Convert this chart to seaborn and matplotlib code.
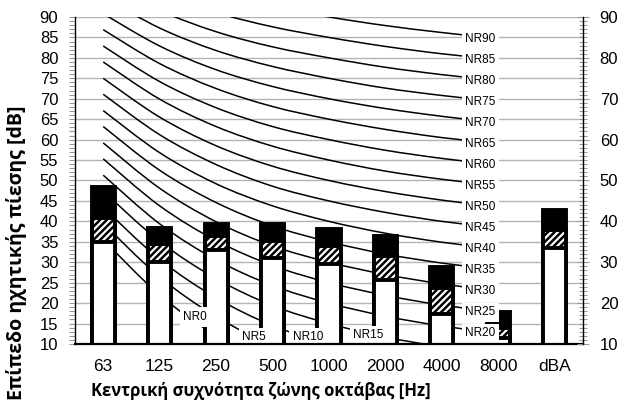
import matplotlib
matplotlib.use("Agg")
import matplotlib.pyplot as plt
from matplotlib.path import Path
from matplotlib.patches import PathPatch
from matplotlib.ticker import MultipleLocator
import seaborn as sns

# Octave bands on the x axis (last column is the overall A-weighted level)
bands = ["63", "125", "250", "500", "1000", "2000", "4000", "8000", "dBA"]

# Stacked bar levels in dB (cumulative tops of each segment)
level_white = [35.0, 30.1, 33.0, 31.0, 29.5, 25.7, 17.3, 11.5, 33.4]
level_hatch = [40.8, 34.5, 36.4, 35.3, 34.0, 31.5, 23.6, 13.8, 38.0]
level_total = [48.3, 38.3, 39.3, 39.3, 38.2, 36.4, 28.8, 17.9, 42.8]

# Noise Rating curves, 63 Hz ... 8000 Hz
nr_bands = ["63", "125", "250", "500", "1000", "2000", "4000", "8000"]
nr_0 = [35.5, 22.0, 12.0, 4.8, 0.0, -3.5, -6.1, -8.0]
nr_5 = [39.5, 26.4, 16.7, 9.7, 5.0, 1.6, -1.0, -2.9]
nr_10 = [43.4, 30.7, 21.3, 14.5, 10.0, 6.7, 4.2, 2.3]
nr_15 = [47.4, 35.1, 26.0, 19.4, 15.0, 11.7, 9.3, 7.5]
nr_20 = [51.3, 39.4, 30.6, 24.3, 20.0, 16.8, 14.4, 12.6]
nr_25 = [55.3, 43.8, 35.3, 29.2, 25.0, 21.9, 19.5, 17.8]
nr_30 = [59.2, 48.1, 39.9, 34.0, 30.0, 27.0, 24.7, 22.9]
nr_35 = [63.2, 52.5, 44.6, 38.9, 35.0, 32.0, 29.8, 28.1]
nr_40 = [67.1, 56.8, 49.2, 43.8, 40.0, 37.1, 34.9, 33.2]
nr_45 = [71.1, 61.2, 53.9, 48.6, 45.0, 42.2, 40.0, 38.4]
nr_50 = [75.0, 65.5, 58.5, 53.5, 50.0, 47.3, 45.2, 43.5]
nr_55 = [79.0, 69.9, 63.2, 58.4, 55.0, 52.3, 50.3, 48.7]
nr_60 = [82.9, 74.2, 67.8, 63.2, 60.0, 57.4, 55.4, 53.8]
nr_65 = [86.9, 78.6, 72.5, 68.1, 65.0, 62.5, 60.5, 59.0]
nr_70 = [90.8, 82.9, 77.1, 73.0, 70.0, 67.6, 65.7, 64.1]
nr_75 = [94.8, 87.3, 81.8, 77.9, 75.0, 72.6, 70.8, 69.3]
nr_80 = [98.7, 91.6, 86.4, 82.7, 80.0, 77.7, 75.9, 74.4]
nr_85 = [102.7, 96.0, 91.1, 87.6, 85.0, 82.8, 81.0, 79.6]
nr_90 = [106.6, 100.3, 95.7, 92.5, 90.0, 87.9, 86.2, 84.7]

nr_names = ["NR0", "NR5", "NR10", "NR15", "NR20", "NR25", "NR30", "NR35", "NR40",
            "NR45", "NR50", "NR55", "NR60", "NR65", "NR70", "NR75", "NR80", "NR85", "NR90"]
nr_curves = [nr_0, nr_5, nr_10, nr_15, nr_20, nr_25, nr_30, nr_35, nr_40, nr_45,
             nr_50, nr_55, nr_60, nr_65, nr_70, nr_75, nr_80, nr_85, nr_90]

# Curves that run off the bottom get their label placed along the curve
low_label_pos = {"NR0": (1.63, 16.6), "NR5": (2.67, 11.7),
                 "NR10": (3.63, 11.7), "NR15": (4.70, 12.1)}

plt.rcParams["hatch.linewidth"] = 1.8
plt.rcParams["font.family"] = ["Liberation Sans", "DejaVu Sans"]

fig = plt.figure(figsize=(6.25, 4.07), dpi=100)
ax = fig.add_axes([75 / 625, 1 - 344 / 407, 508 / 625, 327 / 407])


def smooth_path(xs, ys):
    """Smoothed polyline through the points using cubic Bezier segments."""
    pts = list(zip(xs, ys))
    verts = [pts[0]]
    codes = [Path.MOVETO]
    n = len(pts)
    for i in range(n - 1):
        p0 = pts[i - 1] if i > 0 else pts[i]
        p1 = pts[i]
        p2 = pts[i + 1]
        p3 = pts[i + 2] if i + 2 < n else pts[i + 1]
        c1 = (p1[0] + (p2[0] - p0[0]) / 6, p1[1] + (p2[1] - p0[1]) / 6)
        c2 = (p2[0] - (p3[0] - p1[0]) / 6, p2[1] - (p3[1] - p1[1]) / 6)
        verts += [c1, c2, p2]
        codes += [Path.CURVE4] * 3
    return Path(verts, codes)


# Bars: black full height, hatched middle, white bottom drawn on top of each other
bar_kw = dict(width=0.41, edgecolor="black", linewidth=2.8, saturation=1,
              errorbar=None, ax=ax, zorder=3)
sns.barplot(x=bands, y=level_total, color="black", **bar_kw)
sns.barplot(x=bands, y=level_hatch, color="white", hatch="/////", **bar_kw)
sns.barplot(x=bands, y=level_white, color="white", **bar_kw)

# NR curves
xpos = list(range(len(nr_bands)))
for name, vals in zip(nr_names, nr_curves):
    patch = PathPatch(smooth_path(xpos, vals), fill=False, edgecolor="black",
                      linewidth=1.1, zorder=2, transform=ax.transData)
    ax.add_patch(patch)
    if name in low_label_pos:
        lx, ly = low_label_pos[name]
    else:
        lx, ly = 6.68, vals[-1]
    ax.text(lx, ly, name, fontsize=8.5, ha="center", va="center", zorder=5,
            bbox=dict(boxstyle="square,pad=0.3", facecolor="white", edgecolor="none"))

ax.set_xlim(-0.5, 8.5)
ax.set_ylim(10, 90)
ax.set_xlabel("")
ax.set_ylabel("")

ax.yaxis.set_major_locator(MultipleLocator(5))
ax.yaxis.set_minor_locator(MultipleLocator(1))
ax.grid(axis="y", which="major", color="#b4b4b4", linewidth=1.0)
ax.grid(axis="x", visible=False)
ax.set_axisbelow(True)

ax.tick_params(axis="y", which="both", direction="out", length=4, width=0.8,
               color="#999999", labelsize=12, pad=8)
ax.tick_params(axis="x", length=0, labelsize=12.5, pad=11)

for side in ["top", "right"]:
    ax.spines[side].set_visible(False)
ax.spines["left"].set_color("black")
ax.spines["left"].set_linewidth(1.0)
ax.spines["bottom"].set_color("black")
ax.spines["bottom"].set_linewidth(1.6)
ax.spines["bottom"].set_zorder(6)

# Secondary scale on the right
ax2 = ax.twinx()
ax2.set_ylim(10, 90)
ax2.yaxis.set_major_locator(MultipleLocator(10))
ax2.yaxis.set_minor_locator(MultipleLocator(1))
ax2.tick_params(axis="y", which="major", direction="inout", length=8, width=0.8,
                color="#999999", labelsize=12, pad=8)
ax2.tick_params(axis="y", which="minor", direction="inout", length=6, width=0.8,
                color="#999999")
for side in ["top", "left", "bottom"]:
    ax2.spines[side].set_visible(False)
ax2.spines["right"].set_color("black")
ax2.spines["right"].set_linewidth(1.0)

fig.text(17 / 625, 1 - 253 / 407, "Επίπεδο ηχητικής πίεσης [dB]", rotation=90,
         ha="center", va="center", fontsize=14, fontweight="bold",
         family=["Open Sans", "DejaVu Sans"])
fig.text(261 / 625, 1 - 391 / 407, "Κεντρική συχνότητα ζώνης οκτάβας [Hz]",
         ha="center", va="center", fontsize=12, fontweight="bold",
         family=["Open Sans", "DejaVu Sans"])

fig.savefig("out.png", dpi=100)
